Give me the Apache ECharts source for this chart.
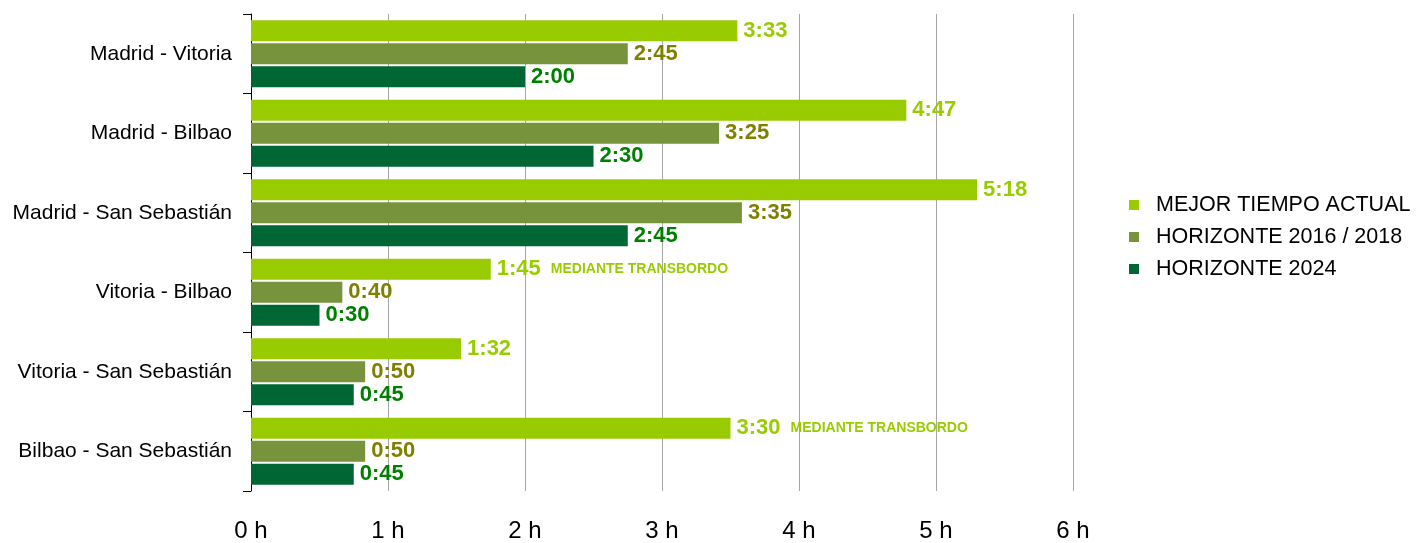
<!DOCTYPE html>
<html lang="es">
<head>
    <meta charset="UTF-8">
    <title>Tiempos de viaje</title>
    <script src="https://cdn.jsdelivr.net/npm/echarts@6.0.0/dist/echarts.min.js"></script>
    <style>
        html, body { margin: 0; padding: 0; background: #fff; }
        #chart { width: 1418px; height: 543px; }
    </style>
</head>
<body>
<div id="chart"></div>
<script>
    // datos (tiempos en minutos)
    var categories = ['Madrid - Vitoria', 'Madrid - Bilbao', 'Madrid - San Sebastián',
        'Vitoria - Bilbao', 'Vitoria - San Sebastián', 'Bilbao - San Sebastián'];
    var seriesNames = ['MEJOR TIEMPO ACTUAL', 'HORIZONTE 2016 / 2018', 'HORIZONTE 2024'];
    var actualMin = [213, 287, 318, 105, 92, 210];
    var h2018Min = [165, 205, 215, 40, 50, 50];
    var h2024Min = [120, 150, 165, 30, 45, 45];
    var notes = ['', '', '', 'MEDIANTE TRANSBORDO', '', 'MEDIANTE TRANSBORDO'];
    var hourTicks = [0, 1, 2, 3, 4, 5, 6];

    var font = 'Liberation Sans, Arial, sans-serif';

    function toHours(arr) {
        return arr.map(function (m) { return m / 60; });
    }

    function hm(v) {
        var m = Math.round(v * 60);
        var mm = m % 60;
        return Math.floor(m / 60) + ':' + (mm < 10 ? '0' : '') + mm;
    }

    function barSeries(name, data, color, labelColor, withNotes) {
        return {
            name: name,
            type: 'bar',
            data: toHours(data),
            barWidth: 21,
            barGap: '10%',
            itemStyle: {color: color},
            label: {
                show: true,
                position: 'right',
                distance: 6,
                fontFamily: font,
                fontWeight: 'bold',
                fontSize: 22,
                color: labelColor,
                formatter: function (p) {
                    var s = hm(p.value);
                    if (withNotes && notes[p.dataIndex]) {
                        s += '{n|' + notes[p.dataIndex] + '}';
                    }
                    return s;
                },
                rich: {
                    n: {
                        fontFamily: font,
                        fontWeight: 'bold',
                        fontSize: 14,
                        color: labelColor,
                        padding: [0, 0, 0, 10]
                    }
                }
            }
        };
    }

    var chart = echarts.init(document.getElementById('chart'));
    chart.setOption({
        animation: false,
        grid: {left: 251, right: 345, top: 14, bottom: 47},
        legend: {
            orient: 'vertical',
            left: 1124,
            top: 189,
            icon: 'rect',
            itemWidth: 10,
            itemHeight: 10,
            itemGap: 10,
            textStyle: {fontFamily: font, fontSize: 21.5, color: '#000', padding: [0, 0, 0, 12]},
            data: seriesNames
        },
        xAxis: {
            type: 'value',
            min: hourTicks[0],
            max: hourTicks[hourTicks.length - 1],
            interval: 1,
            axisLine: {show: false},
            axisTick: {show: false},
            splitLine: {lineStyle: {color: '#a6a6a6', width: 1}},
            axisLabel: {
                margin: 28,
                fontFamily: font,
                fontSize: 24,
                color: '#000',
                formatter: '{value} h'
            }
        },
        yAxis: {
            type: 'category',
            inverse: true,
            data: categories,
            axisLine: {show: true, lineStyle: {color: '#000', width: 1}},
            axisTick: {show: true, length: 8, lineStyle: {color: '#000', width: 1}},
            axisLabel: {margin: 19, fontFamily: font, fontSize: 21, color: '#000'}
        },
        series: [
            barSeries(seriesNames[0], actualMin, '#99cc00', '#99cc00', true),
            barSeries(seriesNames[1], h2018Min, '#77933c', '#808000', false),
            barSeries(seriesNames[2], h2024Min, '#006633', '#008000', false)
        ]
    });
</script>
</body>
</html>
